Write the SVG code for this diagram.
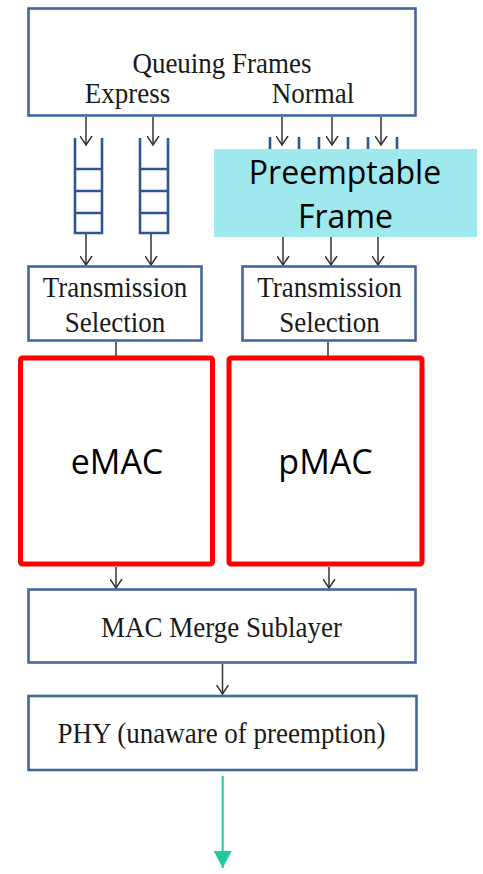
<svg xmlns="http://www.w3.org/2000/svg" width="483" height="874" viewBox="0 0 483 874">
  <defs>
    <!-- open vee arrowhead, drawn along +x so orient="auto" follows the line -->
    <marker id="vee" viewBox="0 0 10 13" refX="9.5" refY="6.5" markerWidth="10" markerHeight="13" markerUnits="userSpaceOnUse" orient="auto">
      <path d="M0.5,0.5 L9.5,6.5 L0.5,12.5" fill="none" stroke="#333" stroke-width="1.5"/>
    </marker>
    <marker id="tealHead" viewBox="0 0 17 18" refX="17" refY="9" markerWidth="17" markerHeight="18" markerUnits="userSpaceOnUse" orient="auto">
      <path d="M0,0 L17,9 L0,18 Z" fill="#1FC9A2"/>
    </marker>
  </defs>
  <style>
    .box { fill: #fff; stroke: #41679A; stroke-width: 2.6; }
    .queue { fill: none; stroke: #2F5597; stroke-width: 2.6; }
    .mac { fill: #fff; stroke: #FF0000; stroke-width: 5; }
    .serif { font-family: "Liberation Serif", "Times New Roman", serif; font-size: 27px; fill: #1a1a1a; text-anchor: middle; }
    .sans { font-family: "Open Sans", "Noto Sans", sans-serif; fill: #000; text-anchor: middle; }
    .wire { stroke: #333; stroke-width: 1.5; fill: none; }
    .arrow { stroke: #333; stroke-width: 1.5; fill: none; marker-end: url(#vee); }
  </style>

  <!-- Queuing frames source -->
  <g id="queuing-frames">
    <rect class="box" x="28.5" y="8.5" width="387" height="107"/>
    <text class="serif" x="222" y="73" transform="matrix(1,0,0,1.1,0,-7.3)">Queuing Frames</text>
    <text class="serif" x="127.5" y="103" transform="matrix(1,0,0,1.1,0,-10.3)">Express</text>
    <text class="serif" x="313" y="103" transform="matrix(1,0,0,1.1,0,-10.3)">Normal</text>
  </g>

  <!-- Express queues -->
  <g id="express-queue-1">
    <path class="queue" d="M75,138 V233 H102 V138 M75,169 H102 M75,191 H102 M75,213 H102"/>
  </g>
  <g id="express-queue-2">
    <path class="queue" d="M140,138 V233 H168 V138 M140,169 H168 M140,191 H168 M140,213 H168"/>
  </g>

  <!-- Normal (preemptable) queues -->
  <g id="normal-queue-1">
    <path class="queue" d="M270,137 V233 H299 V137 M270,169 H299 M270,191 H299 M270,213 H299"/>
  </g>
  <g id="normal-queue-2">
    <path class="queue" d="M319,137 V233 H348 V137 M319,169 H348 M319,191 H348 M319,213 H348"/>
  </g>
  <g id="normal-queue-3">
    <path class="queue" d="M368,137 V233 H397 V137 M368,169 H397 M368,191 H397 M368,213 H397"/>
  </g>

  <!-- Connectors -->
  <g id="connectors">
    <line class="arrow" x1="86" y1="117" x2="86" y2="145"/>
    <line class="arrow" x1="153" y1="117" x2="153" y2="145"/>
    <line class="arrow" x1="282" y1="117" x2="282" y2="145"/>
    <line class="arrow" x1="332" y1="117" x2="332" y2="145"/>
    <line class="arrow" x1="381" y1="117" x2="381" y2="145"/>

    <line class="arrow" x1="86" y1="234" x2="86" y2="265"/>
    <line class="arrow" x1="151" y1="234" x2="151" y2="265"/>
    <line class="arrow" x1="283" y1="237" x2="283" y2="265"/>
    <line class="arrow" x1="331" y1="237" x2="331" y2="265"/>
    <line class="arrow" x1="378" y1="237" x2="378" y2="265"/>

    <line class="wire" x1="116" y1="342" x2="116" y2="356"/>
    <line class="wire" x1="328" y1="342" x2="328" y2="356"/>

    <line class="arrow" x1="116" y1="567" x2="116" y2="588"/>
    <line class="arrow" x1="329" y1="567" x2="329" y2="588"/>

    <line class="arrow" x1="222.5" y1="664" x2="222.5" y2="694"/>

    <line x1="222.7" y1="776" x2="222.7" y2="868" stroke="#1FC9A2" stroke-width="2" marker-end="url(#tealHead)"/>
  </g>

  <!-- Preemptable frame label -->
  <g id="preemptable-frame">
    <rect x="214" y="149" width="263" height="88" fill="#9FE9EE"/>
    <text class="sans" x="345" y="184" font-size="32">Preemptable</text>
    <text class="sans" x="345.5" y="228" font-size="32">Frame</text>
  </g>

  <!-- Transmission selection -->
  <g id="transmission-selection-express">
    <rect class="box" x="28.5" y="266.5" width="173" height="74"/>
    <text class="serif" x="115" y="297" transform="matrix(1,0,0,1.1,0,-29.7)">Transmission</text>
    <text class="serif" x="115" y="332" transform="matrix(1,0,0,1.1,0,-33.2)">Selection</text>
  </g>
  <g id="transmission-selection-normal">
    <rect class="box" x="242.5" y="266.5" width="173" height="74"/>
    <text class="serif" x="329.5" y="297" transform="matrix(1,0,0,1.1,0,-29.7)">Transmission</text>
    <text class="serif" x="329.5" y="332" transform="matrix(1,0,0,1.1,0,-33.2)">Selection</text>
  </g>

  <!-- MAC entities -->
  <g id="emac">
    <rect class="mac" x="20.5" y="358" width="192" height="206" rx="2"/>
    <text class="sans" x="117" y="474" font-size="34">eMAC</text>
  </g>
  <g id="pmac">
    <rect class="mac" x="229" y="358" width="193" height="206" rx="2"/>
    <text class="sans" x="325.5" y="474" font-size="34">pMAC</text>
  </g>

  <!-- Merge sublayer and PHY -->
  <g id="mac-merge-sublayer">
    <rect class="box" x="28.5" y="589.5" width="387" height="73"/>
    <text class="serif" x="221.5" y="637" transform="matrix(1,0,0,1.1,0,-63.7)">MAC Merge Sublayer</text>
  </g>
  <g id="phy">
    <rect class="box" x="28.5" y="696" width="388" height="74"/>
    <text class="serif" x="221.5" y="743" transform="matrix(1,0,0,1.1,0,-74.3)">PHY (unaware of preemption)</text>
  </g>
</svg>
